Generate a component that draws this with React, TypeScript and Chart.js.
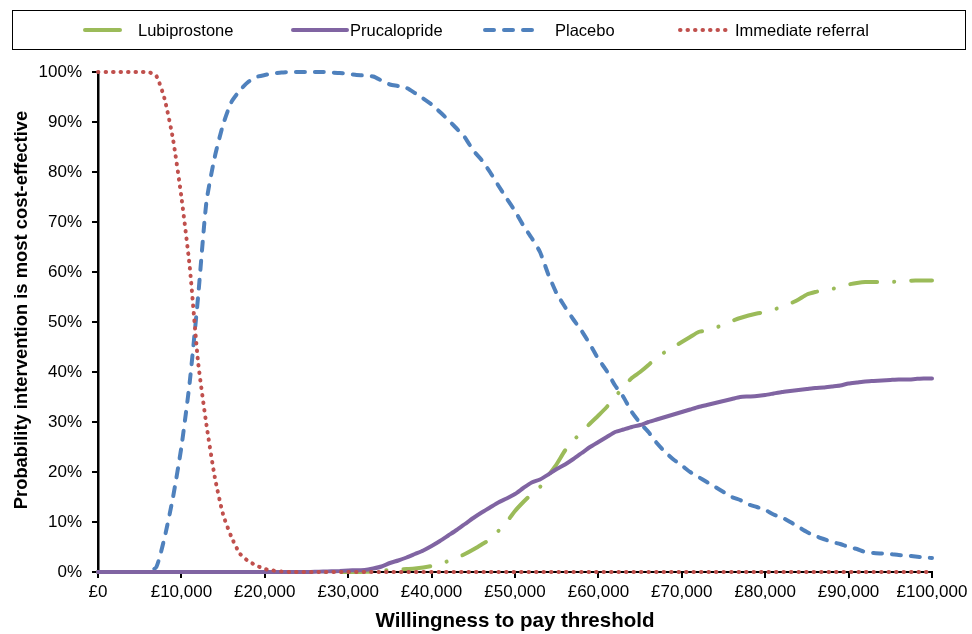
import React, { useEffect, useRef } from "react";
import { Chart, registerables } from "chart.js";

Chart.register(...registerables);

// Willingness to pay threshold, in £ thousands
const thresholdsK = [
  0, 1, 2, 3, 4, 5, 6, 7, 8, 9, 10, 11, 12, 13, 14, 15, 16, 17, 18, 19, 20,
  21, 22, 23, 24, 25, 26, 27, 28, 29, 30, 31, 32, 33, 34, 35, 36, 37, 38, 39, 40,
  41, 42, 43, 44, 45, 46, 47, 48, 49, 50, 51, 52, 53, 54, 55, 56, 57, 58, 59, 60,
  61, 62, 63, 64, 65, 66, 67, 68, 69, 70, 71, 72, 73, 74, 75, 76, 77, 78, 79, 80,
  81, 82, 83, 84, 85, 86, 87, 88, 89, 90, 91, 92, 93, 94, 95, 96, 97, 98, 99, 100,
];

const seriesNames = ["Lubiprostone", "Prucalopride", "Placebo", "Immediate referral"];

// Probability (%) most cost-effective
const lubiprostone = [
  0, 0, 0, 0, 0, 0, 0, 0, 0, 0, 0, 0, 0, 0, 0, 0, 0, 0, 0, 0, 0,
  0, 0, 0, 0, 0, 0, 0, 0, 0, 0, 0, 0.05, 0.1, 0.3, 0.4, 0.5, 0.6, 0.7, 0.9, 1.2,
  1.6, 2.2, 2.8, 3.6, 4.5, 5.5, 6.5, 8.2, 10, 12.2, 14, 15.6, 17, 19.3, 21.6, 24.3, 26.3, 28, 29.7, 31.3,
  33, 35, 37, 38.8, 40, 41.4, 43, 44, 45, 46, 47, 48, 48.3, 48.8, 49.5, 50.2, 50.8, 51.3, 51.7, 52,
  52.5, 53, 53.7, 54.5, 55.5, 56, 56.3, 56.6, 57, 57.5, 57.8, 58, 58, 58, 58, 58.1, 58.2, 58.3, 58.3, 58.3,
];

const prucalopride = [
  0, 0, 0, 0, 0, 0, 0, 0, 0, 0, 0, 0, 0, 0, 0, 0, 0, 0, 0, 0, 0,
  0, 0, 0, 0, 0, 0.05, 0.1, 0.15, 0.2, 0.3, 0.35, 0.4, 0.7, 1.1, 1.8, 2.3, 2.9, 3.6, 4.3, 5.2,
  6.2, 7.3, 8.4, 9.6, 10.8, 11.9, 12.9, 13.9, 14.7, 15.6, 16.8, 17.9, 18.5, 19.5, 20.6, 21.5, 22.6, 23.8, 25, 26,
  27, 28, 28.5, 29, 29.4, 30, 30.5, 31, 31.5, 32, 32.5, 33, 33.4, 33.8, 34.2, 34.6, 35, 35.1, 35.2, 35.4,
  35.7, 36, 36.2, 36.4, 36.6, 36.8, 36.9, 37.1, 37.3, 37.7, 37.9, 38.1, 38.2, 38.3, 38.4, 38.5, 38.5, 38.6, 38.7, 38.7,
];

const placebo = [
  0, 0, 0, 0, 0, 0, 0, 1, 7, 15, 25, 38, 55, 74, 83, 89.5, 94, 96.3, 98, 99, 99.4,
  99.7, 99.9, 100, 100, 100, 100, 100, 99.9, 99.8, 99.6, 99.4, 99.3, 99.1, 98.3, 97.5, 97.2, 96.8, 95.8, 94.7, 93.5,
  92, 90.4, 88.7, 86.9, 84.3, 82.4, 80, 77.3, 74.7, 72.2, 69.3, 66.8, 64, 59.5, 55.7, 53, 50.5, 48.2, 45.5, 42.6,
  40.2, 37.3, 35, 32, 29.8, 28, 25.8, 24, 22.5, 21.3, 20, 19, 18, 17, 16, 15, 14.4, 13.5, 13, 12.4,
  11.5, 10.9, 10, 9, 8, 7.2, 6.6, 6, 5.6, 5, 4.6, 4, 3.8, 3.7, 3.6, 3.4, 3.3, 3.1, 2.9, 2.8,
];

const immediateReferral = [
  100, 100, 100, 100, 100, 100, 100, 99.2, 94.5, 86.5, 75, 61, 42, 29.5, 19, 11.5, 7, 3.7, 2.2, 1.3, 0.6,
  0.3, 0.1, 0, 0, 0, 0, 0, 0, 0, 0, 0, 0, 0, 0, 0, 0, 0, 0, 0, 0,
  0, 0, 0, 0, 0, 0, 0, 0, 0, 0, 0, 0, 0, 0, 0, 0, 0, 0, 0, 0,
  0, 0, 0, 0, 0, 0, 0, 0, 0, 0, 0, 0, 0, 0, 0, 0, 0, 0, 0, 0,
  0, 0, 0, 0, 0, 0, 0, 0, 0, 0, 0, 0, 0, 0, 0, 0, 0, 0, 0, 0,
];

const xTitle = "Willingness to pay threshold";
const yTitle = "Probability intervention is most cost-effective";

const FONT = '"Liberation Sans", Arial, sans-serif';

const colors = ["#9BBB59", "#8064A2", "#4F81BD", "#C0504D"];
const dashes: number[][] = [[27, 17, 0.1, 17], [], [9, 10], [0.5, 7]];
const widths = [4, 4, 4, 4];

const legendPlugin = {
  id: "boxLegend",
  afterDraw(chart: any) {
    const ctx = chart.ctx as CanvasRenderingContext2D;
    ctx.save();
    ctx.strokeStyle = "#000";
    ctx.lineWidth = 1;
    ctx.strokeRect(12.5, 10.5, 953, 39);
    const sampleStart = [85, 293, 485, 680];
    const sampleEnd = [120, 347, 540, 730];
    const textX = [138, 350, 555, 735];
    const y = 30;
    chart.data.datasets.forEach((ds: any, i: number) => {
      ctx.save();
      ctx.strokeStyle = ds.borderColor;
      ctx.lineWidth = ds.borderWidth;
      ctx.lineCap = "round";
      ctx.setLineDash(i === 0 ? [] : ds.borderDash);
      ctx.beginPath();
      ctx.moveTo(sampleStart[i], y);
      ctx.lineTo(sampleEnd[i], y);
      ctx.stroke();
      ctx.restore();
      ctx.fillStyle = "#000";
      ctx.font = `16.5px ${FONT}`;
      ctx.textBaseline = "middle";
      ctx.textAlign = "left";
      ctx.fillText(ds.label, textX[i], y + 1);
    });
    // y axis title
    ctx.save();
    ctx.translate(22, 310);
    ctx.rotate(-Math.PI / 2);
    ctx.fillStyle = "#000";
    ctx.font = `bold 18.4px ${FONT}`;
    ctx.textAlign = "center";
    ctx.textBaseline = "middle";
    ctx.fillText(yTitle, 0, 0);
    ctx.restore();
    ctx.restore();
  },
};

export default function App() {
  const canvasRef = useRef<HTMLCanvasElement | null>(null);

  useEffect(() => {
    const canvas = canvasRef.current;
    if (!canvas) return;
    const series = [lubiprostone, prucalopride, placebo, immediateReferral];
    const order = [2, 1, 3, 0];
    const chart = new Chart(canvas, {
      type: "line",
      data: {
        datasets: series.map((vals, i) => ({
          label: seriesNames[i],
          data: thresholdsK.map((k, j) => ({ x: k * 1000, y: vals[j] })),
          borderColor: colors[i],
          backgroundColor: colors[i],
          borderWidth: widths[i],
          borderDash: dashes[i],
          borderCapStyle: "round",
          borderJoinStyle: "round",
          pointRadius: 0,
          tension: 0.2,
          fill: false,
          clip: false,
          order: order[i],
        })),
      },
      options: {
        animation: false,
        responsive: false,
        maintainAspectRatio: false,
        layout: { padding: { top: 72, right: 40, left: 0, bottom: 0 } },
        plugins: {
          legend: { display: false },
          tooltip: { enabled: false },
        },
        scales: {
          x: {
            type: "linear",
            min: 0,
            max: 100000,
            afterFit: (scale: any) => {
              scale.height = 62;
            },
            ticks: {
              stepSize: 10000,
              color: "#000",
              font: { family: FONT, size: 17 },
              padding: 4,
              maxRotation: 0,
              autoSkip: false,
              callback: (v: any) => "£" + Number(v).toLocaleString("en-GB"),
            },
            grid: {
              display: true,
              drawOnChartArea: false,
              drawTicks: true,
              tickLength: 6,
              color: "#000",
              lineWidth: 2,
            },
            border: { display: true, color: "#000", width: 2 },
            title: {
              display: true,
              text: xTitle,
              color: "#000",
              font: { family: FONT, size: 20.5, weight: "bold" },
              padding: { top: 1, bottom: 0 },
            },
          },
          y: {
            type: "linear",
            min: 0,
            max: 100,
            afterFit: (scale: any) => {
              scale.width = 98;
            },
            ticks: {
              stepSize: 10,
              color: "#000",
              font: { family: FONT, size: 17 },
              padding: 10,
              callback: (v: any) => v + "%",
            },
            grid: {
              display: true,
              drawOnChartArea: false,
              drawTicks: true,
              tickLength: 6,
              color: "#000",
              lineWidth: 2,
            },
            border: { display: true, color: "#000", width: 2.5 },
            title: { display: false },
          },
        },
      },
      plugins: [legendPlugin],
    });
    return () => chart.destroy();
  }, []);

  return (
    <div style={{ position: "fixed", left: 0, top: 0, width: 972, height: 634, background: "#fff" }}>
      <canvas ref={canvasRef} width={972} height={634} style={{ width: 972, height: 634 }} />
    </div>
  );
}
